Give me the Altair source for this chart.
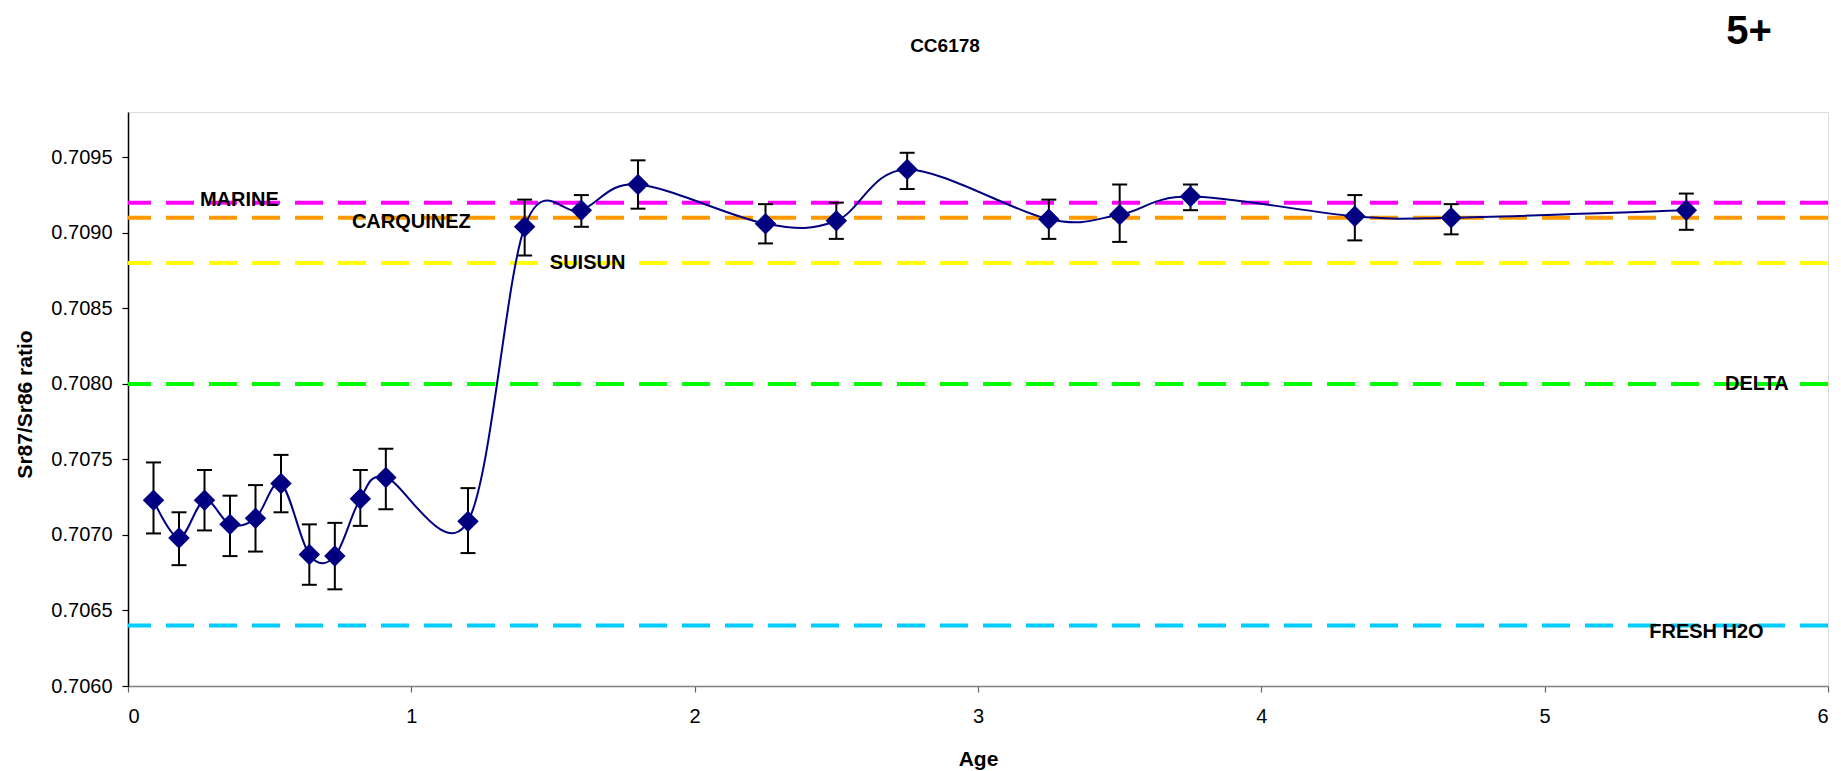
import altair as alt
import pandas as pd

# ---- data ----
ages = [0.09, 0.18, 0.27, 0.36, 0.45, 0.54, 0.64, 0.73, 0.82, 0.91, 1.2,
        1.4, 1.6, 1.8, 2.25, 2.5, 2.75, 3.25, 3.5, 3.75, 4.33, 4.67, 5.5]
ratios = [0.70723, 0.70698, 0.70723, 0.70707, 0.70711, 0.70734, 0.70687,
          0.70686, 0.70724, 0.70738, 0.70709, 0.70904, 0.70915, 0.70932,
          0.70906, 0.70908, 0.70942, 0.70909, 0.70912, 0.70924, 0.70911,
          0.70910, 0.70915]
err_hi = [0.70748, 0.70715, 0.70743, 0.70726, 0.70733, 0.70753, 0.70707,
          0.70708, 0.70743, 0.70757, 0.70731, 0.70922, 0.70925, 0.70948,
          0.70919, 0.70920, 0.70953, 0.70922, 0.70932, 0.70932, 0.70925,
          0.70919, 0.70926]
err_lo = [0.70701, 0.70680, 0.70703, 0.70686, 0.70689, 0.70715, 0.70667,
          0.70664, 0.70706, 0.70717, 0.70688, 0.70885, 0.70904, 0.70916,
          0.70893, 0.70896, 0.70929, 0.70896, 0.70894, 0.70915, 0.70895,
          0.70899, 0.70902]

zone_names = ["MARINE", "CARQUINEZ", "SUISUN", "DELTA", "FRESH H2O"]
zone_levels = [0.7092, 0.7091, 0.7088, 0.7080, 0.7064]
zone_colors = ["#FF00FF", "#FF9900", "#FFFF00", "#00FF00", "#00CCFF"]
label_ages = [0.393, 1.0, 1.622, 5.749, 5.571]
label_levels = [0.70918, 0.70903, 0.70876, 0.70796, 0.70632]

y_ticks = [0.7060, 0.7065, 0.7070, 0.7075, 0.7080, 0.7085, 0.7090, 0.7095]
x_ticks = [0, 1, 2, 3, 4, 5, 6]

chart_title = ["CC6178"]
corner_tag = ["5+"]

FONT = "Liberation Sans"

pts = pd.DataFrame({"age": ages, "ratio": ratios, "lo": err_lo, "hi": err_hi})
zones = pd.DataFrame({"zone": zone_names, "level": zone_levels})
labels = pd.DataFrame({"zone": zone_names, "age": label_ages, "level": label_levels})

xs = alt.Scale(domain=[0, 6], nice=False, zero=False)
ys = alt.Scale(domain=[0.7060, 0.7098], nice=False, zero=False)

x_axis = alt.Axis(title="Age", values=x_ticks, format="d", grid=False,
                  domainColor="#808080", domainWidth=1.5, tickColor="#606060",
                  tickSize=6, tickWidth=1.2, labelFont=FONT, labelFontSize=20,
                  labelColor="black", labelPadding=14, titleFont=FONT,
                  titleFontSize=21, titleFontWeight="bold", titleColor="black",
                  titleBaseline="alphabetic", titleY=79)
y_axis = alt.Axis(title="Sr87/Sr86 ratio", values=y_ticks, format=".4f",
                  grid=False, domainColor="black", domainWidth=1.5,
                  tickColor="black", tickSize=6, tickWidth=1.2, labelFont=FONT,
                  labelFontSize=20, labelColor="black", labelPadding=10,
                  titleFont=FONT, titleFontSize=21, titleFontWeight="bold",
                  titleColor="black", titleBaseline="alphabetic", titleX=-97,
                  titleY=292, titleAlign="center", titleAngle=-90)

rules = alt.Chart(zones).mark_rule(strokeWidth=4, strokeDash=[28, 15]).encode(
    y=alt.Y("level:Q", scale=ys, axis=y_axis),
    color=alt.Color("zone:N", scale=alt.Scale(domain=zone_names, range=zone_colors),
                    legend=None),
)

line = alt.Chart(pts).mark_line(interpolate="cardinal", color="#000080",
                                strokeWidth=2).encode(
    x=alt.X("age:Q", scale=xs, axis=x_axis),
    y=alt.Y("ratio:Q", scale=ys),
)

bars = alt.Chart(pts).mark_rule(color="black", strokeWidth=2).encode(
    x=alt.X("age:Q", scale=xs),
    y=alt.Y("lo:Q", scale=ys),
    y2="hi:Q",
)
cap_hi = alt.Chart(pts).mark_tick(orient="horizontal", size=15, thickness=2,
                                  color="black", opacity=1).encode(
    x=alt.X("age:Q", scale=xs), y=alt.Y("hi:Q", scale=ys))
cap_lo = alt.Chart(pts).mark_tick(orient="horizontal", size=15, thickness=2,
                                  color="black", opacity=1).encode(
    x=alt.X("age:Q", scale=xs), y=alt.Y("lo:Q", scale=ys))

points = alt.Chart(pts).mark_point(shape="diamond", filled=True, size=460,
                                   color="#000080", opacity=1).encode(
    x=alt.X("age:Q", scale=xs), y=alt.Y("ratio:Q", scale=ys))

zone_text = alt.Chart(labels).mark_text(
    font=FONT, fontSize=20, fontWeight="bold", color="black",
    align="center", baseline="alphabetic").encode(
    x=alt.X("age:Q", scale=xs), y=alt.Y("level:Q", scale=ys), text="zone:N")

title_text = alt.Chart(pd.DataFrame({"t": chart_title})).mark_text(
    font=FONT, fontSize=19, fontWeight="bold", color="black", align="center",
    baseline="alphabetic").encode(x=alt.value(817), y=alt.value(-60), text="t:N")

tag = alt.Chart(pd.DataFrame({"t": corner_tag})).mark_text(
    font=FONT, fontSize=40, fontWeight="bold", color="black", align="center",
    baseline="alphabetic").encode(x=alt.value(1621), y=alt.value(-68), text="t:N")

chart = alt.layer(rules, line, bars, cap_hi, cap_lo, points, zone_text,
                  title_text, tag).properties(
    width=1700, height=574,
    autosize=alt.AutoSizeParams(type="none"),
    padding={"left": 120, "top": 104, "right": 5, "bottom": 84},
).configure_view(stroke=None).configure(background="white")

chart.save("out.html", embed_options={"renderer": "svg", "actions": False})
